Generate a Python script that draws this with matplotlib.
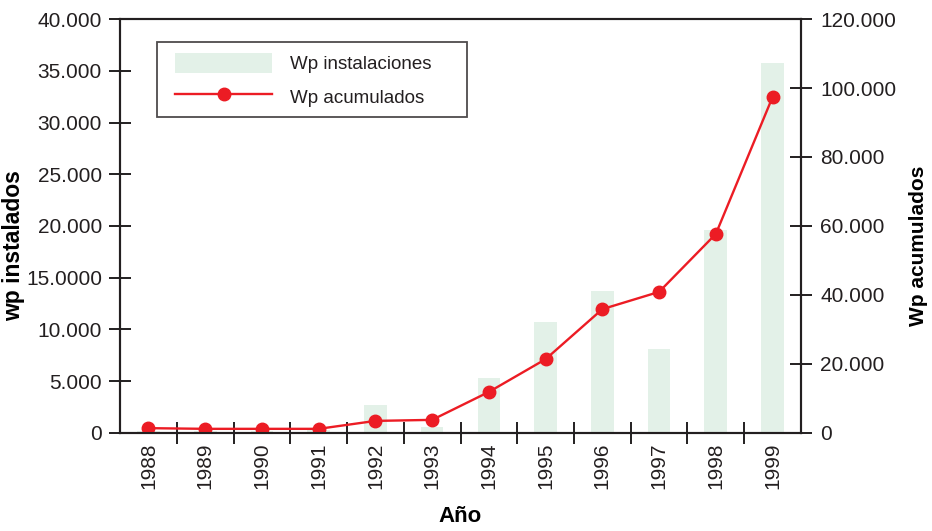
import matplotlib
matplotlib.use("Agg")
import matplotlib.pyplot as plt
from matplotlib.ticker import FixedLocator
from matplotlib.legend_handler import HandlerPatch, HandlerLine2D

plt.rcParams['font.family'] = ['Liberation Sans', 'DejaVu Sans']
plt.rcParams['text.color'] = '#231f20'

years = ['1988', '1989', '1990', '1991', '1992', '1993',
         '1994', '1995', '1996', '1997', '1998', '1999']
# Wp instalaciones (left axis)
wp_inst = [150, 150, 150, 300, 2700, 580, 5300, 10700, 13700, 8100, 19600, 35750]
# Wp acumulados (right axis)
wp_acum = [1400, 1200, 1200, 1200, 3500, 3800, 11900, 21400, 35900, 40900, 57700, 97400]

left_ticks = [0, 5000, 10000, 15000, 20000, 25000, 30000, 35000, 40000]
left_labels = ['0', '5.000', '10.000', '15.0000', '20.000', '25.000', '30.000', '35.000', '40.000']
right_ticks = [0, 20000, 40000, 60000, 80000, 100000, 120000]
right_labels = ['0', '20.000', '40.000', '60.000', '80.000', '100.000', '120.000']

bar_col = '#e3f1e8'
red = '#ec1c24'
dark = '#231f20'

fig = plt.figure(figsize=(9.32, 5.31), dpi=100)
ax = fig.add_axes([0.1288, 0.1846, 0.7306, 0.7796])
ax2 = ax.twinx()

x = list(range(len(years)))
b = ax.bar(x, wp_inst, width=0.4, color=bar_col, label='Wp instalaciones', zorder=1)
l, = ax2.plot(x, wp_acum, color=red, lw=1.7, marker='o', ms=9, label='Wp acumulados')

ax.set_xlim(-0.5, len(years) - 0.5)
ax.set_ylim(0, 40000)
ax2.set_ylim(0, 120000)

ax.set_xticks(x)
ax.set_xticklabels(years, rotation=90, fontsize=15)
ax.xaxis.set_minor_locator(FixedLocator([i + 0.5 for i in x[:-1]]))
ax.tick_params(axis='x', which='major', length=0, pad=7, labelcolor=dark)
ax.tick_params(axis='x', which='minor', direction='inout', length=16, width=1.4, color=dark)

ax.set_yticks(left_ticks)
ax.set_yticklabels(left_labels, fontsize=15)
ax.tick_params(axis='y', direction='inout', length=16, width=1.4, color=dark, pad=5, labelcolor=dark)
ax2.set_yticks(right_ticks)
ax2.set_yticklabels(right_labels, fontsize=15)
ax2.tick_params(axis='y', direction='inout', length=16, width=1.4, color=dark, pad=6, labelcolor=dark)

for a in (ax, ax2):
    for s in a.spines.values():
        s.set_linewidth(1.5)
        s.set_color(dark)

ax.set_ylabel('wp instalados', fontsize=16.5, fontweight='bold')
ax.yaxis.set_label_coords(-0.1395, 0.452)
ax2.set_ylabel('Wp acumulados', fontsize=15, fontweight='bold')
ax2.yaxis.set_label_coords(1.158, 0.452)
ax.set_xlabel('Año', fontsize=16, fontweight='bold', labelpad=12)

bh = b.patches[0]
leg = ax.legend([bh, l], ['Wp instalaciones', 'Wp acumulados'], loc='upper left',
                bbox_to_anchor=(0.054, 0.5, 0.455, 0.444), mode='expand', fontsize=13.5,
                frameon=True, fancybox=False,
                handler_map={bh: HandlerPatch(xpad=0.43), l: HandlerLine2D(xpad=0.43)},
                handlelength=5.6, handleheight=1.3, borderpad=0.55, labelspacing=0.7,
                handletextpad=0.95, borderaxespad=0)
leg.get_frame().set_edgecolor(dark)
leg.get_frame().set_linewidth(1.3)

fig.savefig('out.png', dpi=100)
